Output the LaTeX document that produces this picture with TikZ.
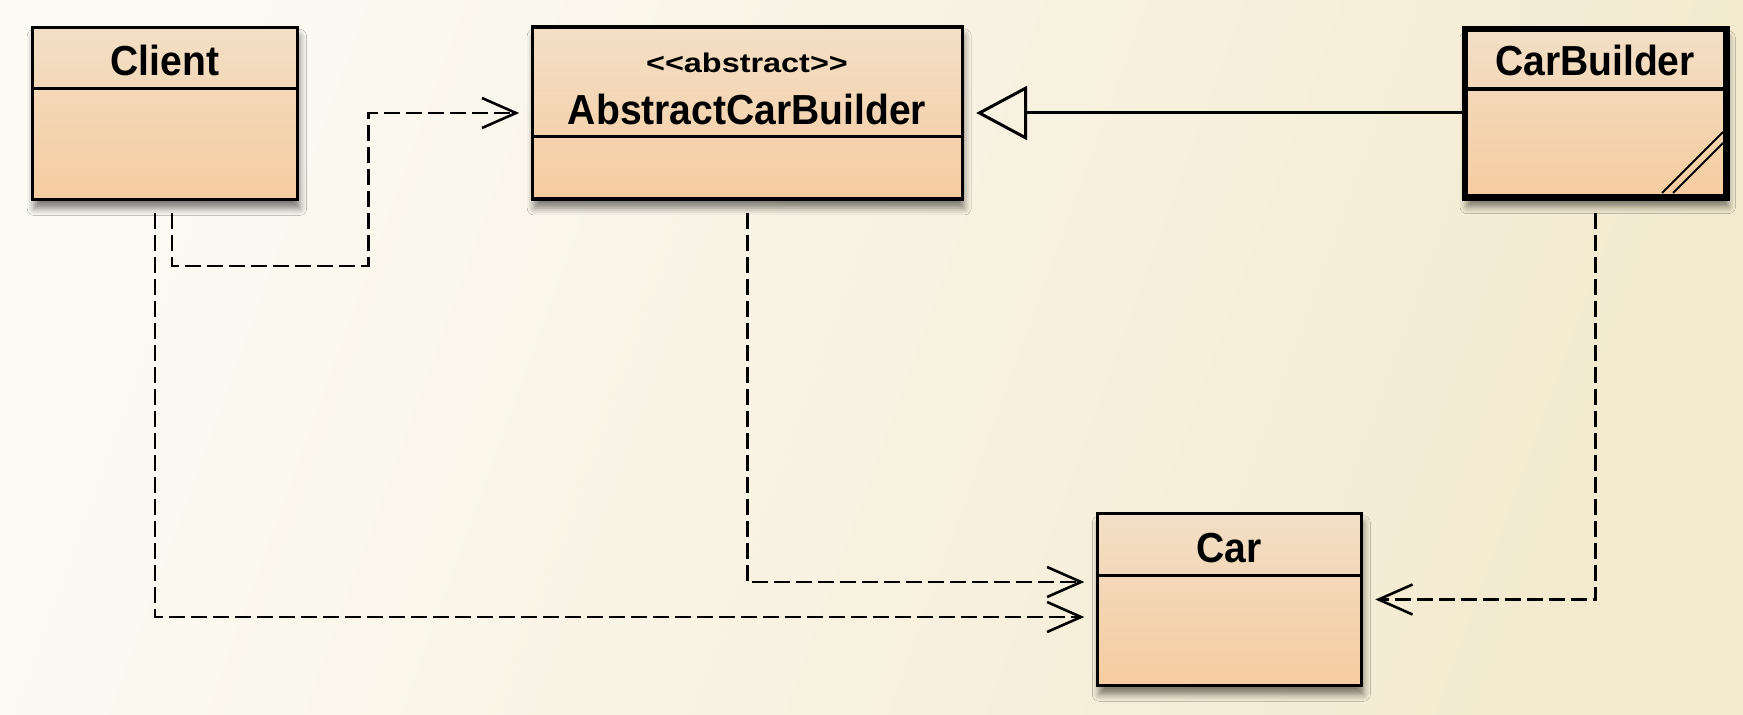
\documentclass[tikz,border=0pt]{standalone}
\usepackage{fontspec}
\newfontfamily\umlfont[FakeStretch=0.93]{Liberation Sans}
\newfontfamily\stereofont[FakeStretch=1.2]{Liberation Sans}
\usetikzlibrary{arrows.meta,shadows.blur,calc}
\definecolor{bgL}{RGB}{252,250,244}
\definecolor{bgR}{RGB}{243,234,207}
\definecolor{boxT}{RGB}{242,223,198}
\definecolor{boxB}{RGB}{246,204,160}
\begin{document}
\begin{tikzpicture}[x=0.5pt,y=-0.5pt,
  classbox/.style={draw=black, line width=1.65pt, top color=boxT, bottom color=boxB,
    inner sep=0pt, outer sep=0pt, anchor=north west,
    blur shadow={shadow xshift=1pt, shadow yshift=-4.5pt, shadow blur radius=3.5pt, shadow opacity=50}},
  divider/.style={draw=black, line width=1.65pt},
  namelbl/.style={font=\umlfont\bfseries\fontsize{21}{24}\selectfont, inner sep=0pt, anchor=base},
  stereolbl/.style={font=\stereofont\bfseries\fontsize{13.5}{16}\selectfont, inner sep=0pt, anchor=base},
  dep/.style={line width=1.3pt, dash pattern=on 8pt off 3pt, -{Straight Barb[length=17pt,width=15pt]}},
  gen/.style={line width=1.5pt, -{Triangle[open, length=25.5pt, width=27pt]}},
  hatch/.style={line width=1pt}]
% background
\shade[top color=bgL, bottom color=bgR, shading angle=70] (0,0) rectangle (1743,715);
\useasboundingbox (0,0) rectangle (1743,715);

% class boxes
\node[classbox, minimum width=132.7pt, minimum height=86.05pt] (client) at (32.2,27.3) {};
\node[classbox, minimum width=215pt, minimum height=86pt] (abs) at (532.2,27) {};
\node[classbox, line width=3.25pt, minimum width=130.7pt, minimum height=84.35pt] (cb) at (1465,29) {};
\node[classbox, minimum width=132pt, minimum height=85.8pt] (car) at (1097.3,513.7) {};

% dividers
\draw[divider] ($(client.north west)+(0,61)$) -- ($(client.north east)+(0,61)$);
\draw[divider] ($(abs.north west)+(0,109.7)$) -- ($(abs.north east)+(0,109.7)$);
\draw[divider] ($(cb.north west)+(0,60)$) -- ($(cb.north east)+(0,60)$);
\draw[divider] ($(car.north west)+(0,62)$) -- ($(car.north east)+(0,62)$);

% hatch of CarBuilder
\draw[hatch] ($(cb.south east)+(-64.4,-4.7)$) -- ($(cb.south east)+(-3.4,-65.7)$);
\draw[hatch] ($(cb.south east)+(-53.4,-4.7)$) -- ($(cb.south east)+(-3.4,-54.7)$);

% labels
\node[namelbl] (clientlbl) at (165,76) {Client};
\node[stereolbl] (abssterlbl) at (747,72.7) {<\kern0pt<abstract>\kern0pt>};
\node[namelbl] (abslbl) at (747,125) {AbstractCarBuilder};
\node[namelbl] (cblbl) at (1595,76) {CarBuilder};
\node[namelbl] (carlbl) at (1229.3,562.7) {Car};

% connectors
\draw[dep] ($(client.south)+(7,13.5)$) -- ++(0,53) -| ($(abs.west)+(-164,0)$) -- ($(abs.west)+(-13,0)$);
\draw[dep] ($(client.south)+(-10,13.5)$) |- ($(car.west)+(-13,17.5)$);
\draw[dep] ($(abs.south)+(0,14)$) |- ($(car.west)+(-13,-17.5)$);
\draw[dep] ($(cb.south)+(0,15)$) |- ($(car.east)+(14,0)$);
\draw[gen] (abs.east -| cb.west) -- ($(abs.east)+(14,0)$);
\end{tikzpicture}
\end{document}
